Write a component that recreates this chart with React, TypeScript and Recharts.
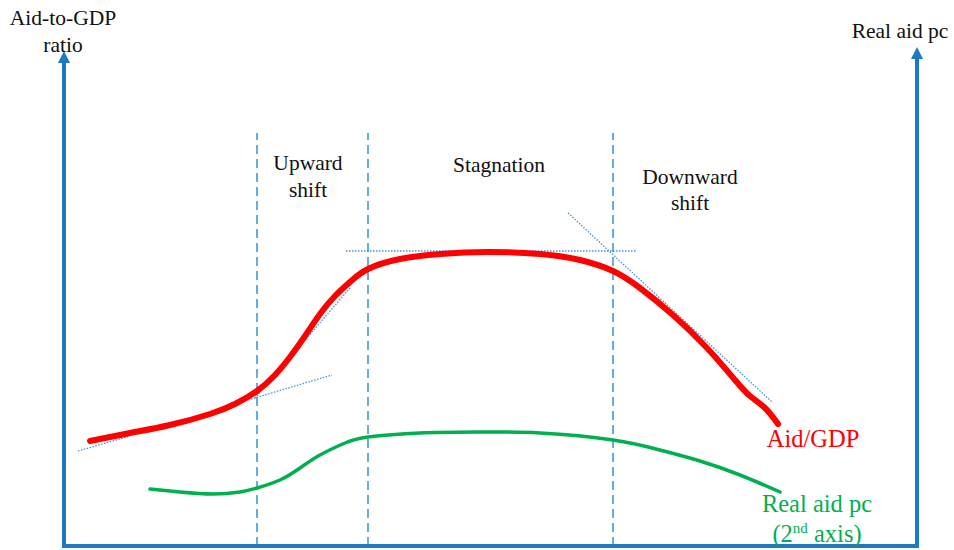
import React from "react";
import { ComposedChart, Line, XAxis, YAxis, ReferenceLine, ReferenceDot } from "recharts";

// Conceptual diagram; x = time position, y = level (arbitrary units)
const aidGdpX = [26, 66, 106, 146, 171, 193, 211, 226, 241, 256, 271, 286, 304, 336, 376, 423, 476, 516, 549, 576, 609, 643, 671, 686, 701, 714];
const aidGdpY = [105, 113, 121, 132, 142, 155, 171, 189, 210, 232, 250, 264, 277, 287, 292, 294, 292, 286, 275, 258, 231, 198, 166, 150, 138, 122];

const realAidX = [86, 116, 149, 176, 193, 216, 236, 256, 281, 304, 356, 416, 476, 549, 596, 636, 676, 716];
const realAidY = [57, 54, 52, 54, 58, 66, 78, 91, 103, 109, 113, 114, 113, 106, 96, 85, 71, 54];

const phaseBoundaries = [193, 304, 549];
const phaseTop = 413;

// tangent guide segments [x1, y1, x2, y2]
const tangents = [
  [14, 95, 66, 110],
  [184, 146, 268, 171],
  [191, 148, 286, 258],
  [282, 295, 573, 295],
  [504, 333, 708, 144],
];

const aidData = aidGdpX.map((x, i) => ({ x, y: aidGdpY[i] }));
const realData = realAidX.map((x, i) => ({ x, y: realAidY[i] }));

const BLUE = "#1C7AC2";
const GUIDE = "#4A90D6";

const arrow = (props: any) => {
  const { cx, cy } = props;
  return <polygon points={`${cx},${cy} ${cx - 6},${cy + 12} ${cx + 6},${cy + 12}`} fill={BLUE} />;
};

const serif = "Liberation Serif, Times New Roman, serif";

export default function App() {
  return (
    <div style={{ position: "absolute", left: 0, top: 0, width: 954, height: 550, background: "#fff" }}>
      <ComposedChart width={954} height={550} margin={{ top: 46, right: 37, bottom: 4, left: 64 }}>
        <XAxis type="number" dataKey="x" domain={[0, 853]} hide allowDataOverflow />
        <YAxis type="number" dataKey="y" domain={[0, 500]} hide allowDataOverflow />
        {phaseBoundaries.map((x) => (
          <ReferenceLine
            key={"p" + x}
            segment={[{ x, y: 0 }, { x, y: phaseTop }]}
            stroke="#3A91D8"
            strokeWidth={1.5}
            strokeDasharray="9 5"
            ifOverflow="visible"
          />
        ))}
        {tangents.map((t, i) => (
          <ReferenceLine
            key={"t" + i}
            segment={[{ x: t[0], y: t[1] }, { x: t[2], y: t[3] }]}
            stroke={GUIDE}
            strokeWidth={1.3}
            strokeDasharray="1.5 1.5"
            ifOverflow="visible"
          />
        ))}
        <Line data={aidData} dataKey="y" type="natural" stroke="#FF0000" strokeWidth={6} dot={false} isAnimationActive={false} strokeLinecap="round" />
        <Line data={realData} dataKey="y" type="natural" stroke="#00B050" strokeWidth={3.5} dot={false} isAnimationActive={false} strokeLinecap="round" />
        <ReferenceLine segment={[{ x: 0, y: -2 }, { x: 0, y: 484 }]} stroke={BLUE} strokeWidth={4} ifOverflow="visible" />
        <ReferenceLine segment={[{ x: 853, y: -2 }, { x: 853, y: 488 }]} stroke={BLUE} strokeWidth={4} ifOverflow="visible" />
        <ReferenceLine segment={[{ x: -2, y: 0 }, { x: 855, y: 0 }]} stroke={BLUE} strokeWidth={4} ifOverflow="visible" />
        <ReferenceDot x={0} y={495} r={0} shape={arrow} ifOverflow="visible" />
        <ReferenceDot x={853} y={499} r={0} shape={arrow} ifOverflow="visible" />
      </ComposedChart>
      <svg width={954} height={550} style={{ position: "absolute", left: 0, top: 0, pointerEvents: "none", fontFamily: serif }}>
        <g fontSize={21.5} fill="#111" textAnchor="middle" style={{ fontFamily: serif }}>
          <text x={63} y={25}>Aid-to-GDP</text>
          <text x={63} y={52}>ratio</text>
          <text x={900} y={38}>Real aid pc</text>
          <text x={308} y={170}>Upward</text>
          <text x={308} y={197}>shift</text>
          <text x={499} y={172}>Stagnation</text>
          <text x={690} y={184}>Downward</text>
          <text x={690} y={210}>shift</text>
        </g>
        <text x={813} y={447} fontSize={24.5} fill="#FF0000" textAnchor="middle" style={{ fontFamily: serif }}>Aid/GDP</text>
        <g fontSize={24.5} fill="#00B050" textAnchor="middle" style={{ fontFamily: serif }}>
          <text x={817} y={512}>Real aid pc</text>
          <text x={817} y={542}>
            (2<tspan fontSize={15} dy={-9}>nd</tspan>
            <tspan dy={9}> axis)</tspan>
          </text>
        </g>
      </svg>
    </div>
  );
}
